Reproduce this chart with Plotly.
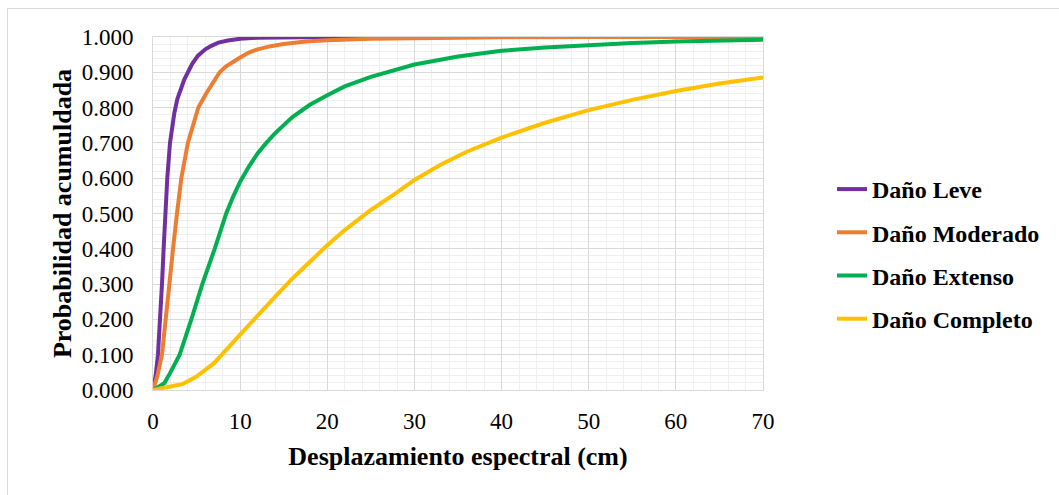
import plotly.graph_objects as go

# ---- data ----
leve_x = [0, 0.3, 0.57, 0.84, 1.03, 1.22, 1.42, 1.64, 1.95, 2.2, 2.45, 2.8, 3.25, 3.6, 4.0, 4.5, 5.16, 6.0, 6.7, 7.5, 8.6, 10, 12, 15, 20, 30, 40, 50, 60, 70]
leve_y = [0, 0.04, 0.10, 0.20, 0.30, 0.40, 0.50, 0.60, 0.70, 0.748, 0.785, 0.825, 0.858, 0.880, 0.90, 0.924, 0.947, 0.965, 0.975, 0.984, 0.990, 0.995, 0.998, 0.999, 1.0, 1.0, 1.0, 1.0, 1.0, 1.0]

moderado_x = [0, 0.5, 1.03, 1.42, 1.84, 2.3, 2.75, 3.25, 4.0, 5.2, 6.1, 7.65, 8.35, 9.2, 10, 11, 12, 13.5, 15, 17.5, 20, 25, 30, 40, 50, 60, 70]
moderado_y = [0, 0.04, 0.10, 0.20, 0.30, 0.40, 0.50, 0.60, 0.70, 0.80, 0.84, 0.90, 0.916, 0.930, 0.942, 0.956, 0.965, 0.974, 0.980, 0.987, 0.991, 0.995, 0.997, 0.999, 1.0, 1.0, 1.0]

extenso_x = [0, 1.3, 2.0, 3.06, 4.4, 5.66, 7.08, 8.4, 9.2, 10, 11, 12, 13, 14, 16, 18, 20, 22, 25, 30, 35, 40, 45, 50, 55, 60, 65, 70]
extenso_y = [0, 0.019, 0.05, 0.10, 0.20, 0.30, 0.40, 0.50, 0.548, 0.59, 0.633, 0.670, 0.700, 0.727, 0.773, 0.808, 0.835, 0.860, 0.887, 0.922, 0.945, 0.961, 0.970, 0.977, 0.983, 0.987, 0.990, 0.992]

completo_x = [0, 3.4, 5, 7, 10, 12, 14, 16, 18, 20, 22, 25, 28, 30, 33, 36, 40, 45, 50, 55, 60, 65, 70]
completo_y = [0, 0.017, 0.038, 0.076, 0.157, 0.212, 0.264, 0.316, 0.365, 0.410, 0.453, 0.510, 0.560, 0.595, 0.638, 0.675, 0.715, 0.757, 0.793, 0.822, 0.847, 0.868, 0.885]

series = [
    ("Daño Leve", leve_x, leve_y, "#7030A0"),
    ("Daño Moderado", moderado_x, moderado_y, "#ED7D31"),
    ("Daño Extenso", extenso_x, extenso_y, "#00B050"),
    ("Daño Completo", completo_x, completo_y, "#FFC000"),
]

FONT = "Liberation Serif"

fig = go.Figure()
for i, (name, xs, ys, col) in enumerate(series):
    fig.add_trace(go.Scatter(
        x=xs, y=ys, mode="lines", name=name, legendgroup=str(i),
        line=dict(color=col, width=4),
    ))

W, H = 1059, 495
L, R, T, B = 153, 763, 37, 390
pw, ph = R - L, B - T

def px2paper_x(p):
    return (p - L) / pw

def px2paper_y(p):
    return (B - p) / ph

fig.update_layout(
    width=W, height=H,
    margin=dict(l=L, r=W - R, t=T, b=H - B),
    paper_bgcolor="white", plot_bgcolor="white",
    font=dict(family=FONT, color="black", size=23),
    showlegend=True,
    legend=dict(
        x=px2paper_x(832), y=px2paper_y(254), xanchor="left", yanchor="middle",
        font=dict(family=FONT, size=24, color="black", weight="bold"),
        tracegroupgap=9, bgcolor="rgba(0,0,0,0)",
    ),
    xaxis=dict(
        range=[0, 70], dtick=10, tick0=0,
        showgrid=True, gridcolor="#d9d9d9", gridwidth=1,
        minor=dict(dtick=2, showgrid=True, gridcolor="#efefef", gridwidth=1),
        showline=True, linecolor="#d9d9d9", linewidth=1, mirror=True,
        zeroline=False, ticks="", ticklabelstandoff=10,
        tickfont=dict(family=FONT, size=23, color="black"),
        title=dict(text="Desplazamiento espectral (cm)",
                   font=dict(family=FONT, size=26, color="black", weight="bold"),
                   standoff=14),
    ),
    yaxis=dict(
        range=[0, 1], dtick=0.1, tick0=0, tickformat=".3f",
        showgrid=True, gridcolor="#d9d9d9", gridwidth=1,
        minor=dict(dtick=0.02, showgrid=True, gridcolor="#efefef", gridwidth=1),
        showline=True, linecolor="#d9d9d9", linewidth=1, mirror=True,
        zeroline=False, ticks="", ticklabelstandoff=14,
        tickfont=dict(family=FONT, size=23, color="black"),
        title=dict(text="Probabilidad acumuldada",
                   font=dict(family=FONT, size=26, color="black", weight="bold"),
                   standoff=2),
    ),
    shapes=[dict(
        type="rect", xref="paper", yref="paper", layer="below",
        x0=px2paper_x(7.5), x1=px2paper_x(1070), y0=px2paper_y(505), y1=px2paper_y(8.5),
        line=dict(color="#d9d9d9", width=1), fillcolor="rgba(0,0,0,0)",
    )],
)

fig.write_html("out.html")
